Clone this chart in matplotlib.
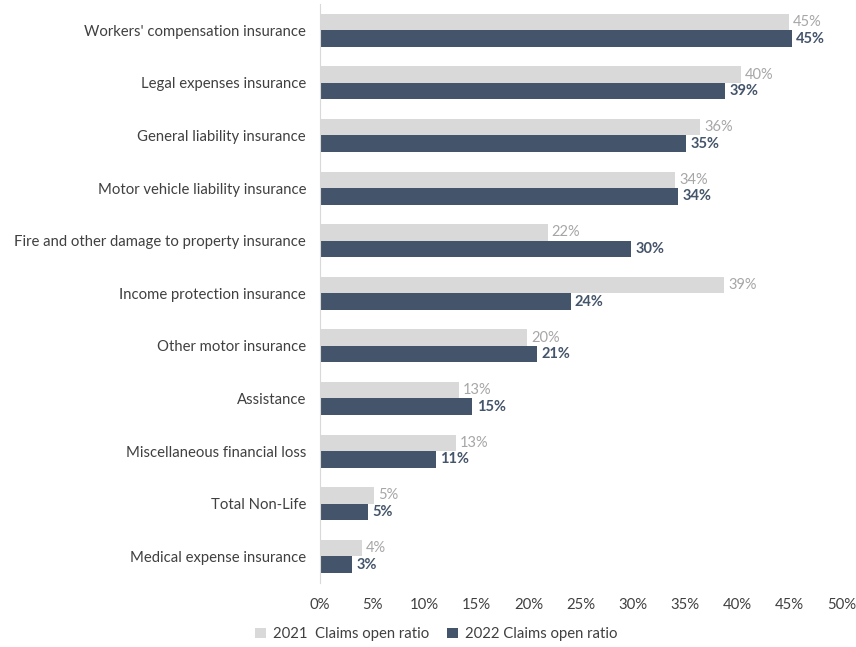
import matplotlib
matplotlib.use("Agg")
import matplotlib.pyplot as plt
import numpy as np
from matplotlib.ticker import PercentFormatter

plt.rcParams['font.family'] = ['Lato', 'DejaVu Sans']

categories = [
    "Workers' compensation insurance",
    "Legal expenses insurance",
    "General liability insurance",
    "Motor vehicle liability insurance",
    "Fire and other damage to property insurance",
    "Income protection insurance",
    "Other motor insurance",
    "Assistance",
    "Miscellaneous financial loss",
    "Total Non-Life",
    "Medical expense insurance",
]
ratio_2021 = [44.9, 40.3, 36.4, 34.0, 21.8, 38.7, 19.8, 13.3, 13.0, 5.2, 4.0]
ratio_2022 = [45.2, 38.8, 35.1, 34.3, 29.8, 24.0, 20.8, 14.6, 11.1, 4.6, 3.1]
x_ticks = [0, 5, 10, 15, 20, 25, 30, 35, 40, 45, 50]

light = "#D9D9D9"
dark = "#44546A"

fig = plt.figure(figsize=(8.56, 6.47), dpi=100)
ax = fig.add_axes([320 / 856, 1 - 582.6 / 647, 522 / 856, 578.6 / 647])

y = np.arange(len(categories))
h = 0.315
ax.barh(y - h / 2, ratio_2021, height=h, color=light, label="2021  Claims open ratio")
ax.barh(y + h / 2, ratio_2022, height=h, color=dark, label="2022 Claims open ratio")

for yi, v in zip(y, ratio_2021):
    ax.text(v + 0.4, yi - h / 2, f"{round(v):.0f}%", va="center", ha="left",
            fontsize=10.5, color="#A6A6A6")
for yi, v in zip(y, ratio_2022):
    ax.text(v + 0.4, yi + h / 2, f"{round(v):.0f}%", va="center", ha="left",
            fontsize=10.5, color=dark, fontweight="bold")

ax.set_yticks(y)
ax.set_yticklabels(categories, fontsize=10.75, color="#404040")
ax.set_ylim(len(categories) - 0.5, -0.5)
ax.set_xlim(0, 50)
ax.set_xticks(x_ticks)
ax.xaxis.set_major_formatter(PercentFormatter(decimals=0))
ax.tick_params(axis="x", labelsize=10.75, colors="#404040", length=0, pad=11)
ax.tick_params(axis="y", length=0, pad=10)

for s in ["top", "right", "bottom"]:
    ax.spines[s].set_visible(False)
ax.spines["left"].set_color("#D9D9D9")

fig.legend(loc="lower center", bbox_to_anchor=(0.51, -0.012), ncol=2, frameon=False,
           fontsize=10.75, handlelength=0.7, handleheight=0.7, columnspacing=1.2,
           handletextpad=0.5, labelcolor="#404040")

fig.savefig("out.png", dpi=100)
